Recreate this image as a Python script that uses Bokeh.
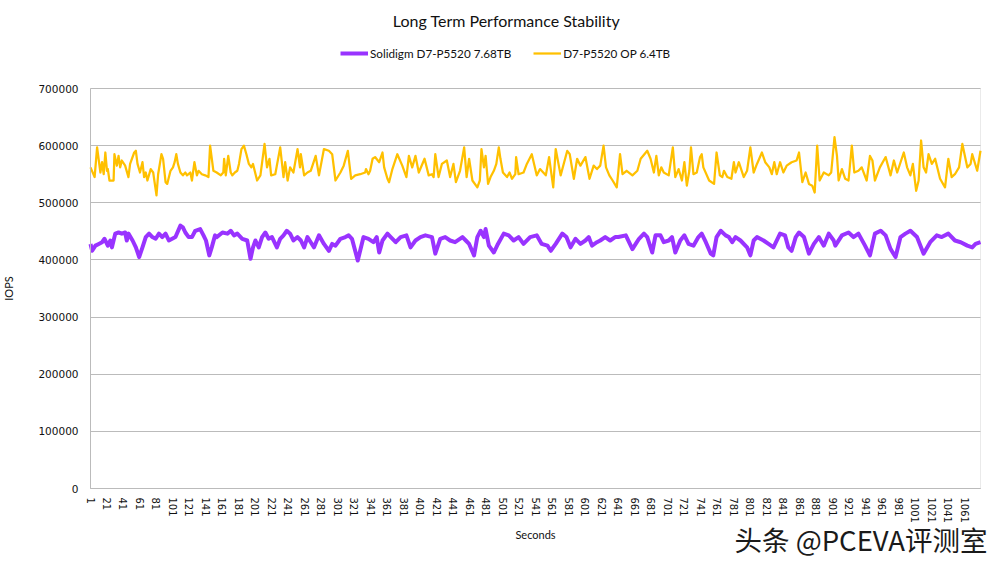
from bokeh.plotting import figure
from bokeh.models import (Range1d, FixedTicker, BasicTickFormatter, Legend, LegendItem, Label,
                          BoxAnnotation, Grid)
from bokeh.embed import file_html
from bokeh.resources import INLINE

# ---------------- data ----------------
solidigm_seconds = [1, 3, 7, 11, 15, 18, 22, 25, 27, 31, 35, 39, 43, 45, 47, 52, 56, 60, 64, 68, 72, 76, 80, 84, 88, 92, 96, 100, 104,
                    110, 113, 116, 120, 124, 128, 134, 138, 141, 145, 148, 152, 154, 161, 167, 171, 175, 179, 185, 191, 195, 198,
                    201, 205, 209, 213, 217, 221, 227, 231, 235, 239, 243, 247, 252, 256, 260, 264, 268, 272, 278, 284, 290, 294,
                    298, 304, 310, 314, 318, 325, 332, 338, 344, 348, 351, 355, 361, 365, 371, 377, 384, 389, 395, 401, 407, 415,
                    419, 425, 431, 437, 443, 452, 456, 460, 466, 470, 474, 478, 480, 484, 490, 495, 502, 508, 514, 520, 526, 534,
                    542, 548, 555, 559, 565, 573, 578, 583, 589, 595, 601, 605, 609, 615, 619, 625, 631, 637, 641, 650, 658, 662,
                    666, 672, 676, 682, 686, 692, 696, 702, 706, 710, 716, 721, 726, 732, 738, 742, 747, 753, 756, 760, 765, 771,
                    775, 779, 783, 789, 797, 801, 805, 809, 817, 823, 829, 837, 843, 847, 851, 856, 860, 866, 872, 878, 884, 890,
                    896, 902, 904, 912, 920, 926, 932, 940, 946, 952, 959, 965, 971, 977, 983, 989, 995, 1003, 1011, 1019, 1027,
                    1033, 1041, 1049, 1056, 1064, 1070, 1074, 1080]
solidigm_iops = [428000, 416000, 425000, 428000, 431000, 437000, 425000, 434000, 422000, 446000, 448000, 446000, 448000, 434000,
                 446000, 434000, 422000, 405000, 422000, 440000, 446000, 440000, 437000, 446000, 440000, 446000, 434000, 437000,
                 440000, 460000, 457000, 448000, 440000, 440000, 451000, 454000, 443000, 434000, 408000, 422000, 443000, 440000,
                 448000, 446000, 451000, 443000, 446000, 437000, 434000, 402000, 422000, 434000, 422000, 440000, 448000, 437000,
                 440000, 422000, 437000, 443000, 451000, 446000, 434000, 440000, 434000, 422000, 440000, 431000, 422000, 443000,
                 428000, 416000, 428000, 425000, 437000, 440000, 443000, 437000, 399000, 440000, 437000, 431000, 440000, 413000,
                 434000, 446000, 440000, 431000, 440000, 443000, 422000, 434000, 440000, 443000, 440000, 411000, 437000, 440000,
                 434000, 431000, 440000, 434000, 428000, 408000, 440000, 451000, 440000, 454000, 425000, 413000, 428000, 446000,
                 443000, 434000, 440000, 428000, 440000, 443000, 428000, 425000, 416000, 428000, 446000, 440000, 422000, 437000,
                 428000, 434000, 440000, 425000, 431000, 434000, 440000, 434000, 440000, 440000, 443000, 419000, 428000, 437000,
                 446000, 440000, 413000, 443000, 443000, 431000, 434000, 440000, 413000, 434000, 443000, 428000, 425000, 440000,
                 446000, 431000, 411000, 408000, 440000, 451000, 443000, 440000, 431000, 440000, 434000, 422000, 408000, 434000,
                 440000, 434000, 428000, 422000, 446000, 443000, 422000, 416000, 440000, 448000, 440000, 411000, 428000, 440000,
                 425000, 446000, 434000, 425000, 443000, 448000, 440000, 446000, 425000, 408000, 446000, 451000, 443000, 419000,
                 405000, 440000, 446000, 451000, 440000, 411000, 431000, 443000, 440000, 446000, 434000, 431000, 425000, 422000,
                 428000, 431000]

op_seconds = [1, 6, 9, 13, 15, 17, 19, 21, 22, 24, 29, 30, 33, 35, 37, 39, 43, 47, 49, 54, 56, 58, 61, 64, 66, 68, 70, 74, 77, 81,
              83, 87, 89, 92, 94, 98, 101, 103, 105, 107, 110, 113, 116, 118, 122, 124, 127, 130, 132, 136, 140, 144, 146, 150,
              154, 159, 162, 163, 165, 168, 171, 173, 176, 179, 181, 184, 187, 190, 193, 196, 198, 203, 207, 212, 215, 218, 220,
              225, 231, 235, 237, 240, 243, 247, 252, 255, 256, 260, 264, 268, 274, 278, 284, 290, 294, 298, 304, 308, 313, 317,
              322, 328, 334, 335, 338, 340, 343, 346, 351, 355, 357, 361, 363, 367, 373, 379, 384, 387, 391, 395, 399, 406, 411,
              415, 417, 419, 423, 427, 433, 437, 441, 444, 449, 454, 457, 460, 464, 470, 473, 475, 478, 480, 483, 486, 490, 493,
              496, 498, 501, 506, 509, 512, 516, 517, 520, 526, 530, 536, 542, 546, 553, 557, 562, 565, 571, 579, 582, 587, 591,
              595, 601, 606, 611, 615, 619, 623, 626, 630, 634, 639, 643, 646, 651, 658, 664, 668, 676, 680, 684, 687, 690, 693,
              696, 702, 707, 710, 714, 718, 721, 724, 727, 729, 732, 736, 740, 742, 744, 751, 757, 760, 764, 767, 769, 773, 778,
              781, 783, 787, 793, 797, 801, 805, 809, 815, 819, 824, 827, 830, 833, 837, 841, 845, 851, 857, 860, 864, 868, 872,
              876, 879, 882, 885, 890, 896, 899, 903, 906, 908, 912, 916, 920, 924, 927, 932, 936, 942, 946, 949, 952, 958, 965,
              971, 975, 979, 987, 991, 995, 998, 1002, 1005, 1008, 1011, 1014, 1017, 1021, 1025, 1031, 1037, 1041, 1045, 1049,
              1054, 1058, 1064, 1068, 1070, 1076, 1080]
op_iops = [562000, 545000, 597000, 553000, 571000, 550000, 588000, 556000, 559000, 539000, 539000, 585000, 565000, 582000, 562000,
           574000, 565000, 545000, 568000, 588000, 591000, 568000, 553000, 571000, 545000, 553000, 539000, 559000, 553000, 513000,
           550000, 585000, 577000, 536000, 533000, 556000, 562000, 571000, 585000, 568000, 553000, 548000, 553000, 548000, 553000,
           539000, 571000, 548000, 556000, 550000, 548000, 545000, 600000, 556000, 553000, 548000, 553000, 577000, 548000, 582000,
           553000, 548000, 553000, 556000, 568000, 594000, 600000, 585000, 568000, 562000, 568000, 539000, 548000, 603000, 562000,
           577000, 548000, 550000, 597000, 545000, 571000, 539000, 562000, 553000, 594000, 562000, 585000, 548000, 553000, 556000,
           582000, 548000, 594000, 591000, 585000, 539000, 553000, 565000, 591000, 542000, 548000, 550000, 553000, 559000, 550000,
           556000, 577000, 580000, 571000, 588000, 562000, 542000, 536000, 559000, 585000, 565000, 545000, 582000, 562000, 582000,
           553000, 577000, 548000, 550000, 545000, 585000, 545000, 568000, 574000, 545000, 568000, 536000, 556000, 597000, 545000,
           577000, 539000, 527000, 539000, 594000, 562000, 582000, 533000, 545000, 556000, 568000, 597000, 577000, 553000, 545000,
           553000, 542000, 550000, 580000, 550000, 553000, 568000, 585000, 548000, 559000, 548000, 580000, 527000, 594000, 548000,
           591000, 585000, 542000, 577000, 565000, 580000, 542000, 565000, 559000, 565000, 600000, 562000, 548000, 539000, 527000,
           585000, 550000, 556000, 548000, 556000, 577000, 591000, 577000, 553000, 582000, 548000, 562000, 553000, 548000, 597000,
           545000, 559000, 539000, 571000, 530000, 556000, 597000, 550000, 553000, 580000, 585000, 562000, 539000, 533000, 588000,
           548000, 545000, 556000, 545000, 542000, 571000, 553000, 571000, 545000, 556000, 597000, 553000, 568000, 588000, 571000,
           562000, 550000, 571000, 550000, 571000, 553000, 565000, 571000, 574000, 588000, 536000, 553000, 533000, 530000, 518000,
           600000, 539000, 553000, 548000, 553000, 615000, 582000, 539000, 559000, 542000, 539000, 600000, 553000, 556000, 562000,
           539000, 582000, 574000, 539000, 562000, 580000, 548000, 574000, 553000, 588000, 562000, 548000, 568000, 521000, 539000,
           609000, 562000, 553000, 585000, 568000, 577000, 542000, 527000, 577000, 545000, 550000, 562000, 603000, 562000, 568000,
           585000, 556000, 591000]

x_first, x_last = 1, 1080
y_min, y_max = 0, 700000
x_tick_values = list(range(1, 1062, 20))
y_tick_values = [0, 100000, 200000, 300000, 400000, 500000, 600000, 700000]

series_names = ["Solidigm D7-P5520 7.68TB", "D7-P5520 OP 6.4TB"]
title_text = "Long Term Performance Stability"
x_title = "Seconds"
y_title = "IOPS"
watermark = "头条 @PCEVA评测室"

# ---------------- styling / layout ----------------
PURPLE = "#9933FF"
GOLD = "#FFC000"
GRID = "#BBBBBB"
LATIN = "Lato"
INK = "#111111"
W, H = 1008, 567
PLOT_L, PLOT_R, PLOT_T, PLOT_B = 90, 980, 88, 488   # plot-area box in page pixels

# the frame fills the page; the ranges are widened so that the data box lands on PLOT_*
sx = (PLOT_R - PLOT_L) / (x_last - x_first)
sy = (PLOT_B - PLOT_T) / (y_max - y_min)
x_range = Range1d(x_first - PLOT_L / sx, x_last + (W - PLOT_R) / sx)
y_range = Range1d(y_min - (H - PLOT_B) / sy, y_max + PLOT_T / sy)

p = figure(width=W, height=H, output_backend="svg", toolbar_location=None, title_location=None,
           x_range=x_range, y_range=y_range,
           min_border_left=0, min_border_right=0, min_border_top=0, min_border_bottom=0)
p.background_fill_color = "white"
p.border_fill_color = "white"
p.outline_line_color = None

# plot-area box
p.add_layout(BoxAnnotation(left=x_first, right=x_last, bottom=y_min, top=y_max, fill_alpha=0,
                           line_color=GRID, line_width=1, level="underlay"))

r1 = p.line(solidigm_seconds, solidigm_iops, line_color=PURPLE, line_width=4, line_join="round")
r2 = p.line(op_seconds, op_iops, line_color=GOLD, line_width=2.25, line_join="round")

# axes pinned to the data box
p.xaxis.fixed_location = y_min
p.xaxis.bounds = (x_first, x_last)
p.xaxis.ticker = FixedTicker(ticks=x_tick_values)
p.xaxis.major_label_orientation = "vertical"
p.xaxis.major_label_text_font = "DejaVu Sans"
p.xaxis.major_label_text_font_size = "10px"
p.xaxis.major_label_text_color = INK
p.xaxis.major_label_standoff = 9
p.xaxis.axis_label = x_title
p.xaxis.axis_label_text_font = LATIN
p.xaxis.axis_label_text_font_size = "11px"
p.xaxis.axis_label_text_font_style = "normal"
p.xaxis.axis_label_text_color = INK
p.xaxis.axis_label_standoff = 2

p.yaxis.fixed_location = x_first
p.yaxis.bounds = (y_min, y_max)
p.yaxis.ticker = FixedTicker(ticks=y_tick_values)
p.yaxis.formatter = BasicTickFormatter(use_scientific=False)
p.yaxis.major_label_text_font = "DejaVu Sans"
p.yaxis.major_label_text_font_size = "10.5px"
p.yaxis.major_label_text_color = INK
p.yaxis.major_label_standoff = 12
p.yaxis.axis_label = y_title
p.yaxis.axis_label_text_font = LATIN
p.yaxis.axis_label_text_font_size = "11px"
p.yaxis.axis_label_text_font_style = "normal"
p.yaxis.axis_label_text_color = INK
p.yaxis.axis_label_standoff = 20

for ax in (p.xaxis, p.yaxis):
    ax.axis_line_color = GRID
    ax.major_tick_line_color = None
    ax.minor_tick_line_color = None
    ax.major_tick_out = 0
    ax.major_tick_in = 0
    ax.minor_tick_out = 0

p.xgrid.visible = False
ygrid = p.ygrid[0]
ygrid.ticker = FixedTicker(ticks=y_tick_values)
ygrid.bounds = (y_min, y_max)
ygrid.grid_line_color = GRID
ygrid.grid_line_width = 1
if "cross_bounds" in Grid.properties():
    ygrid.cross_bounds = (x_first, x_last)
else:
    ygrid.visible = False
    p.segment(x0=[x_first] * len(y_tick_values), x1=[x_last] * len(y_tick_values),
              y0=y_tick_values, y1=y_tick_values, line_color=GRID, line_width=1, level="underlay")

# legend (bottom-left corner given in page pixels from the page's bottom-left)
legend = Legend(items=[LegendItem(label=series_names[0], renderers=[r1]),
                       LegendItem(label=series_names[1], renderers=[r2])],
                location=(340, H - 60), orientation="horizontal", spacing=22, padding=0, margin=0,
                glyph_width=28, glyph_height=14, label_height=14, label_standoff=2,
                label_text_font=LATIN, label_text_font_size="11.7px", label_text_color=INK,
                background_fill_alpha=0, border_line_color=None)
p.add_layout(legend)

# title
p.add_layout(Label(x=506, y=H - 20, x_units="screen", y_units="screen", text=title_text,
                   text_align="center", text_baseline="middle", text_font=LATIN,
                   text_font_size="16px", text_color=INK))

# watermark
p.add_layout(Label(x=734, y=H - 538, x_units="screen", y_units="screen", text=watermark,
                   text_align="left", text_baseline="middle", text_font="Noto Sans CJK SC",
                   text_font_size="27.5px", text_color="#1a1a1a"))

open("out.html", "w").write(file_html(p, INLINE))
